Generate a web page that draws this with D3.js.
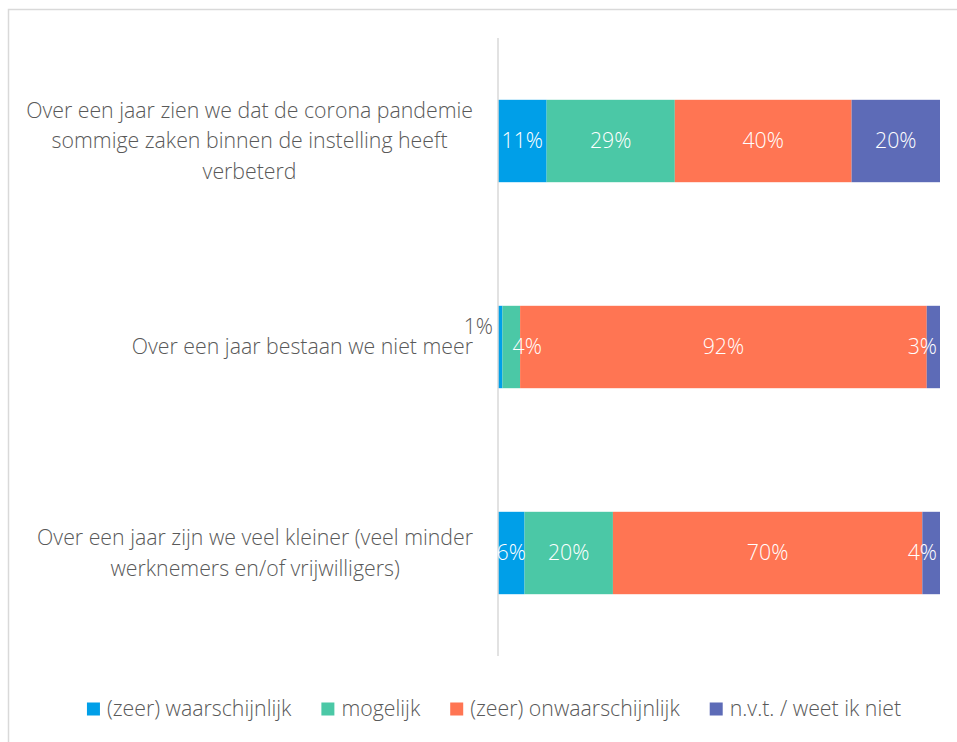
<!DOCTYPE html>
<html lang="nl">
<head>
<meta charset="UTF-8">
<title>Over een jaar</title>
<script src="https://cdn.jsdelivr.net/npm/d3@7"></script>
<style>
  body { margin: 0; background: #fff; }
  svg { display: block; font-family: "Open Sans", Lato, sans-serif; font-weight: 300; }
</style>
</head>
<body>
<div id="chart"></div>
<script>
// data
const categories = [
  ['Over een jaar zien we dat de corona pandemie', 'sommige zaken binnen de instelling heeft', 'verbeterd'],
  ['Over een jaar bestaan we niet meer'],
  ['Over een jaar zijn we veel kleiner (veel minder', 'werknemers en/of vrijwilligers)']
];
const seriesNames = ['(zeer) waarschijnlijk', 'mogelijk', '(zeer) onwaarschijnlijk', 'n.v.t. / weet ik niet'];
const waarschijnlijk = [11, 1, 6];
const mogelijk = [29, 4, 20];
const onwaarschijnlijk = [40, 92, 70];
const nvt = [20, 3, 4];

const colors = ['#009FE8', '#4BC8A6', '#FF7553', '#5D6BB7'];
const textColor = '#595959';
const fontSize = '21.3px';

const width = 957, height = 742;
const svg = d3.select('#chart').append('svg')
  .attr('width', width)
  .attr('height', height);

// frame
svg.append('path')
  .attr('d', 'M8.5,742 V9.5 H957')
  .attr('fill', 'none')
  .attr('stroke', '#d9d9d9')
  .attr('stroke-width', 1.5);

const rows = categories.map((c, i) => ({
  idx: i,
  lines: c,
  values: [waarschijnlijk[i], mogelijk[i], onwaarschijnlijk[i], nvt[i]]
}));

const x = d3.scaleLinear().domain([0, 100]).range([498, 940]);
const y = d3.scaleBand()
  .domain(rows.map(d => d.idx))
  .range([38, 656])
  .paddingInner(0.6)
  .paddingOuter(0.3);

const stacked = d3.stack().keys([0, 1, 2, 3]).value((d, k) => d.values[k])(rows);

// bars
const layers = svg.selectAll('g.layer')
  .data(stacked)
  .join('g')
  .attr('class', 'layer')
  .attr('fill', (d, i) => colors[i]);

layers.selectAll('rect')
  .data(d => d)
  .join('rect')
  .attr('x', d => x(d[0]))
  .attr('y', d => y(d.data.idx))
  .attr('width', d => x(d[1]) - x(d[0]))
  .attr('height', y.bandwidth());

// axis line
svg.append('line')
  .attr('x1', x(0)).attr('x2', x(0))
  .attr('y1', 38).attr('y2', 656)
  .attr('stroke', '#d9d9d9')
  .attr('stroke-width', 1.5);

// data labels (a couple of small ones were moved by hand in the original)
const nudge = { '1|0': { dy: -20, outside: true },
                '1|1': { dx: 16 } };

stacked.forEach((layer, k) => {
  layer.forEach(d => {
    const n = nudge[d.data.idx + '|' + k] || {};
    const t = svg.append('text')
      .attr('y', y(d.data.idx) + y.bandwidth() / 2 + (n.dy || 0))
      .attr('dy', '0.35em')
      .attr('text-anchor', 'middle')
      .attr('fill', n.outside ? textColor : '#fff')
      .style('font-size', fontSize)
      .text(d.data.values[k] + '%');
    const w = t.node().getComputedTextLength();
    let cx = (x(d[0]) + x(d[1])) / 2 + (n.dx || 0);
    if (n.outside) cx = x(d[0]) - 5 - w / 2;
    // keep labels inside the right edge of the plot
    cx = Math.min(cx, x(100) - 3 - w / 2);
    t.attr('x', cx);
  });
});

// category labels: centred block, right edge at 473
const lineH = 30.5;
rows.forEach(r => {
  const g = svg.append('g');
  const mid = y(r.idx) + y.bandwidth() / 2;
  const top = mid - (r.lines.length - 1) * lineH / 2;
  const texts = r.lines.map((l, i) => g.append('text')
    .attr('y', top + i * lineH)
    .attr('dy', '0.35em')
    .attr('fill', textColor)
    .attr('text-anchor', 'middle')
    .style('font-size', fontSize)
    .text(l));
  const w = d3.max(texts, t => t.node().getComputedTextLength());
  texts.forEach(t => t.attr('x', 473 - w / 2));
});

// legend
const legend = svg.append('g');
let lx = 0;
seriesNames.forEach((s, i) => {
  const item = legend.append('g').attr('transform', `translate(${lx},0)`);
  item.append('rect')
    .attr('x', 0).attr('y', -6.5)
    .attr('width', 13).attr('height', 13)
    .attr('fill', colors[i]);
  const t = item.append('text')
    .attr('x', 20)
    .attr('dy', '0.35em')
    .attr('fill', textColor)
    .style('font-size', fontSize)
    .text(s);
  lx += 20 + t.node().getComputedTextLength() + 30;
});
const legendW = lx - 30;
legend.attr('transform', `translate(${494 - legendW / 2},709)`);
</script>
</body>
</html>
